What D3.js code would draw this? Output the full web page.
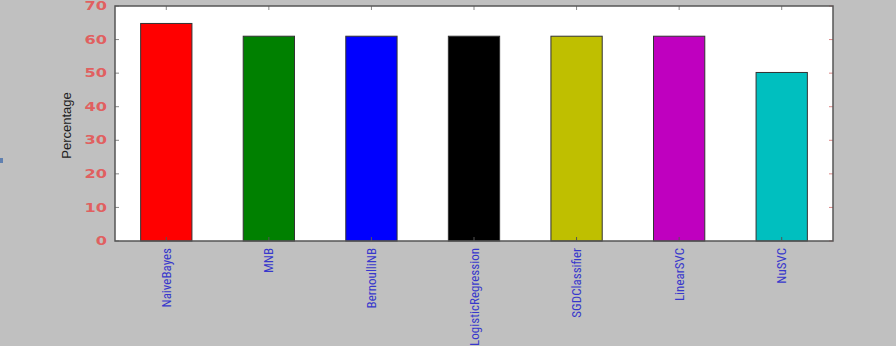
<!DOCTYPE html>
<html lang="en">
<head>
<meta charset="utf-8">
<style>
  body { margin: 0; background: #c0c0c0; }
  svg { display: block; }
</style>
</head>
<body>
<svg width="896" height="346"></svg>
<script src="https://cdn.jsdelivr.net/npm/d3@7/dist/d3.min.js"></script>
<script>
var classifiers = ['NaiveBayes', 'MNB', 'BernoulliNB', 'LogisticRegression', 'SGDClassifier', 'LinearSVC', 'NuSVC']
var accuracy = [64.8, 61.0, 61.0, 61.0, 61.0, 61.0, 50.2]
var barColors = ['#ff0000', '#008000', '#0000ff', '#000000', '#bfbf00', '#bf00bf', '#00bfbf']
var yTicks = [0, 10, 20, 30, 40, 50, 60, 70]

var svg = d3.select('svg')
var margin = {top: 6, right: 63, bottom: 105, left: 115}
var width = 896 - margin.left - margin.right
var height = 346 - margin.top - margin.bottom

var g = svg.append('g').attr('transform', 'translate(' + margin.left + ',' + margin.top + ')')

var x = d3.scaleBand().domain(classifiers).range([0, width]).paddingInner(0.5).paddingOuter(0.25)
var y = d3.scaleLinear().domain([0, 70]).range([height, 0])

// plot background
g.append('rect').attr('width', width).attr('height', height).attr('fill', '#ffffff')

g.selectAll('.bar')
  .data(classifiers)
  .enter().append('rect')
    .attr('class', 'bar')
    .attr('x', function (d) { return x(d) })
    .attr('y', function (d, i) { return y(accuracy[i]) })
    .attr('width', x.bandwidth())
    .attr('height', function (d, i) { return height - y(accuracy[i]) })
    .attr('fill', function (d, i) { return barColors[i] })
    .attr('stroke', '#333')
    .attr('stroke-width', 1)

// ticks inside the frame (classic matplotlib style)
var tl = 4
g.selectAll('.ytick-l').data(yTicks).enter().append('line')
  .attr('x1', 0).attr('x2', tl)
  .attr('y1', function (d) { return y(d) }).attr('y2', function (d) { return y(d) })
  .attr('stroke', '#888')
g.selectAll('.ytick-r').data(yTicks).enter().append('line')
  .attr('x1', width - tl).attr('x2', width)
  .attr('y1', function (d) { return y(d) }).attr('y2', function (d) { return y(d) })
  .attr('stroke', '#d88')
g.selectAll('.xtick-t').data(classifiers).enter().append('line')
  .attr('x1', function (d) { return x(d) + x.bandwidth() / 2 })
  .attr('x2', function (d) { return x(d) + x.bandwidth() / 2 })
  .attr('y1', 0).attr('y2', tl)
  .attr('stroke', '#888')
g.selectAll('.xtick-b').data(classifiers).enter().append('line')
  .attr('x1', function (d) { return x(d) + x.bandwidth() / 2 })
  .attr('x2', function (d) { return x(d) + x.bandwidth() / 2 })
  .attr('y1', height - tl).attr('y2', height)
  .attr('stroke', '#555')

// frame
g.append('rect').attr('width', width).attr('height', height)
  .attr('fill', 'none').attr('stroke', '#555').attr('stroke-width', 1.5)

// y tick labels (wide, flat digits as in the reference)
g.selectAll('.ylab').data(yTicks).enter().append('text')
  .attr('transform', function (d) { return 'translate(-8,' + y(d) + ') scale(1.35,1)' })
  .attr('dy', '0.35em')
  .attr('text-anchor', 'end')
  .attr('font-family', 'DejaVu Sans, sans-serif')
  .attr('font-size', 12)
  .attr('font-weight', 'bold')
  .attr('fill', '#e06060')
  .text(function (d) { return d })

// x tick labels, rotated
g.selectAll('.xlab').data(classifiers).enter().append('text')
  .attr('transform', function (d) {
    return 'translate(' + (x(d) + x.bandwidth() / 2) + ',' + (height + 7) + ') rotate(-90)'
  })
  .attr('dy', '0.35em')
  .attr('text-anchor', 'end')
  .attr('font-family', 'Liberation Sans Narrow, Roboto Condensed, sans-serif')
  .attr('font-size', 13)
  .attr('fill', '#3838cc')
  .text(function (d) { return d })

// y axis title
svg.append('text')
  .attr('transform', 'translate(66,' + (margin.top + height / 2 + 2) + ') rotate(-90)')
  .attr('text-anchor', 'middle')
  .attr('dy', '0.35em')
  .attr('font-family', 'Liberation Sans Narrow, sans-serif')
  .attr('font-size', 13)
  .attr('fill', '#222')
  .text('Percentage')

// small stray mark at left edge
svg.append('rect').attr('x', 0).attr('y', 158).attr('width', 3).attr('height', 5).attr('fill', '#6080b0')
</script>
</body>
</html>
